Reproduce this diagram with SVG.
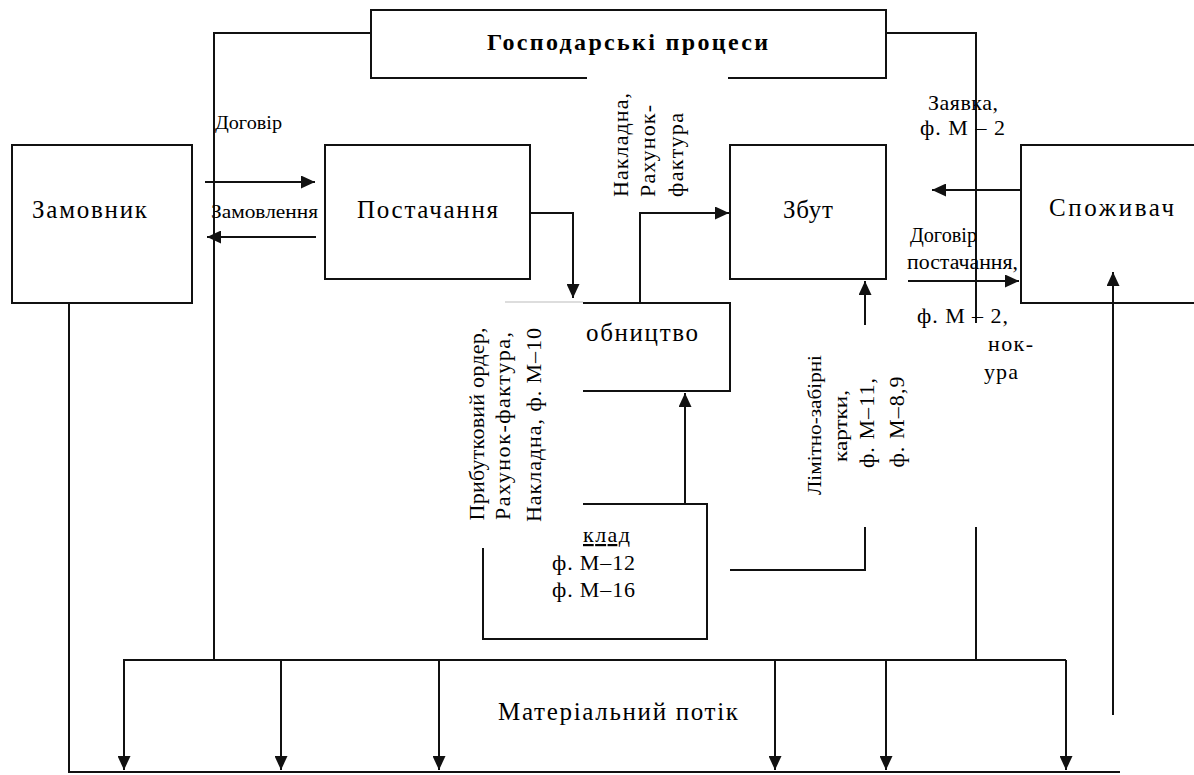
<svg xmlns="http://www.w3.org/2000/svg" width="1194" height="775" viewBox="0 0 1194 775">
<style>
.ln{fill:none;stroke:#111;stroke-width:2}
.bx{fill:none;stroke:#111;stroke-width:2}
.t{font-family:"Liberation Serif","Times New Roman",serif;fill:#000}
.big{font-size:25px}
.mid{font-size:22px}
.sm{font-size:19px}
.rot{font-size:22px}
</style>
<defs>
<marker id="ah" markerUnits="userSpaceOnUse" markerWidth="15" markerHeight="13" refX="14" refY="6.5" orient="auto">
<path d="M0,0 L14,6.5 L0,13 z" fill="#111"/>
</marker>
</defs>
<rect x="0" y="0" width="1194" height="775" fill="#fff"/>

<g id="connectors">
<path class="ln" d="M214,660 V33 H371"/>
<path class="ln" d="M886,33 H976 V323"/>
<path class="ln" d="M976,527 V660"/>
<path class="ln" d="M123,660 H1066"/>
<path class="ln" d="M124,660 V770" marker-end="url(#ah)"/>
<path class="ln" d="M281,660 V770" marker-end="url(#ah)"/>
<path class="ln" d="M439,660 V770" marker-end="url(#ah)"/>
<path class="ln" d="M775,660 V770" marker-end="url(#ah)"/>
<path class="ln" d="M886,660 V770" marker-end="url(#ah)"/>
<path class="ln" d="M1066,660 V770" marker-end="url(#ah)"/>
<path class="ln" d="M69,303 V772 H1120"/>
<path class="ln" d="M1113,715 V272" marker-end="url(#ah)"/>
<path class="ln" d="M205,182 H315" marker-end="url(#ah)"/>
<path class="ln" d="M316,237 H207" marker-end="url(#ah)"/>
<path class="ln" d="M530,213 H573 V298" marker-end="url(#ah)"/>
<path class="ln" d="M640,303 V213 H729" marker-end="url(#ah)"/>
<path class="ln" d="M685,504 V393" marker-end="url(#ah)"/>
<path class="ln" d="M730,570 H865 V527"/>
<path class="ln" d="M865,325 V281" marker-end="url(#ah)"/>
<path class="ln" d="M1020,190 H932" marker-end="url(#ah)"/>
<path class="ln" d="M908,281 H1019" marker-end="url(#ah)"/>
</g>

<g id="node-processes">
<path class="bx" d="M587,78 H371 V10 H886 V78 H728"/>
<text class="t" x="487" y="50" font-size="24" font-weight="bold" textLength="281">Господарські процеси</text>
</g>

<g id="node-zamovnyk">
<rect class="bx" x="12" y="145" width="180" height="158"/>
<text class="t big" x="32" y="218" textLength="115">Замовник</text>
</g>

<g id="node-postachannia">
<rect class="bx" x="325" y="145" width="205" height="134"/>
<text class="t big" x="357" y="218" textLength="141">Постачання</text>
</g>

<g id="node-zbut">
<rect class="bx" x="730" y="145" width="156" height="134"/>
<text class="t big" x="783" y="218" textLength="50">Збут</text>
</g>

<g id="node-spozhyvach">
<path class="bx" d="M1200,145 H1021 V303 H1200"/>
<text class="t big" x="1049" y="216" textLength="125">Споживач</text>
</g>

<g id="node-vyrobnytstvo">
<path d="M505,302 H583" stroke="#bbb" stroke-width="1" fill="none"/>
<path class="bx" d="M583,303 H730 V391 H583"/>
<text class="t big" x="586" y="341" textLength="112">обництво</text>
</g>

<g id="node-sklad">
<path class="bx" d="M583,504 H707 V639 H483 V548"/>
<text class="t mid" x="583" y="542" textLength="47" text-decoration="underline">клад</text>
<text class="t mid" x="552" y="570" textLength="83">ф. М–12</text>
<text class="t mid" x="552" y="597" textLength="83">ф. М–16</text>
</g>

<g id="labels">
<text class="t sm" x="215" y="129" textLength="67" lengthAdjust="spacingAndGlyphs">Договір</text>
<text class="t sm" x="211" y="218" textLength="107" lengthAdjust="spacingAndGlyphs">Замовлення</text>

<text class="t mid" x="928" y="110" textLength="70">Заявка,</text>
<text class="t mid" x="920" y="135" textLength="85">ф. М – 2</text>
<text class="t" font-size="20" x="910" y="242" textLength="67" lengthAdjust="spacingAndGlyphs">Договір</text>
<text class="t" font-size="20" x="907" y="269" textLength="111" lengthAdjust="spacingAndGlyphs">постачання,</text>
<text class="t mid" x="917" y="323" textLength="91">ф. М – 2,</text>
<text class="t mid" x="988" y="351" textLength="45">нок-</text>
<text class="t mid" x="984" y="379" textLength="34">ура</text>

<text class="t rot" transform="translate(628,197) rotate(-90)" textLength="104">Накладна,</text>
<text class="t rot" transform="translate(655,197) rotate(-90)" textLength="92">Рахунок-</text>
<text class="t rot" transform="translate(683,197) rotate(-90)" textLength="84">фактура</text>

<text class="t rot" text-anchor="middle" transform="translate(484,424) rotate(-90)" textLength="193">Прибутковий ордер,</text>
<text class="t rot" text-anchor="middle" transform="translate(510,426) rotate(-90)" textLength="188">Рахунок-фактура,</text>
<text class="t rot" text-anchor="middle" transform="translate(541,425) rotate(-90)" textLength="194">Накладна, ф. М–10</text>

<text class="t" font-size="19" text-anchor="middle" transform="translate(821,425) rotate(-90)" textLength="140" lengthAdjust="spacingAndGlyphs">Лімітно-забірні</text>
<text class="t" font-size="19" text-anchor="middle" transform="translate(847,426) rotate(-90)" textLength="72" lengthAdjust="spacingAndGlyphs">картки,</text>
<text class="t rot" text-anchor="middle" transform="translate(874,423) rotate(-90)" textLength="90">ф. М–11,</text>
<text class="t rot" text-anchor="middle" transform="translate(904,422) rotate(-90)" textLength="91">ф. М–8,9</text>

<text class="t big" x="498" y="720" textLength="240">Матеріальний потік</text>
</g>
</svg>
